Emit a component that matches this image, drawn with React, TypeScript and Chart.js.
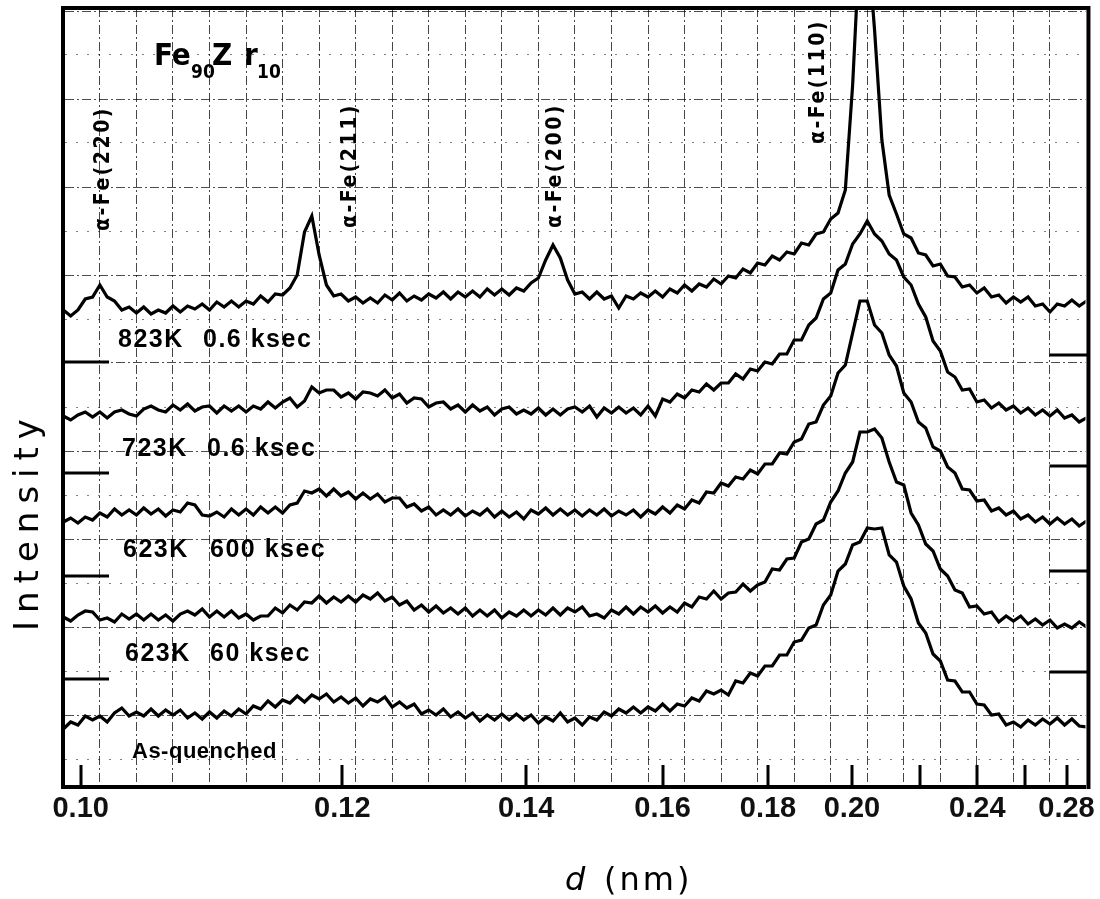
import { useEffect, useRef } from 'react';
import { Chart, LinearScale, registerables } from 'chart.js';

Chart.register(...registerables);

// Mo Kα radiation: the diffractometer scans in 2θ, the axis is labelled in d = λ / (2 sin θ)
const WAVELENGTH_NM = 0.0709;
const D_RANGE = [0.0989, 0.2903];
const SCAN_START_2THETA = 42.0;
const SCAN_STEP_2THETA = 0.2;

const D_TICKS = [0.1, 0.12, 0.14, 0.16, 0.18, 0.2, 0.22, 0.24, 0.26, 0.28];
const D_TICK_LABELS = ['0.10', '0.12', '0.14', '0.16', '0.18', '0.20', '', '0.24', '', '0.28'];

// Intensity (arb. units, traces offset vertically), one value per 2θ step
const I_823K_06KS = [
  477, 471, 477, 488, 490, 502, 490, 486, 477, 480,
  474, 480, 473, 477, 474, 481, 475, 481, 478, 483,
  477, 485, 480, 486, 480, 486, 483, 491, 485, 493,
  492, 499, 512, 555, 571, 532, 502, 491, 493, 486,
  490, 484, 489, 484, 492, 487, 494, 486, 491, 487,
  493, 489, 495, 488, 495, 490, 496, 490, 498, 492,
  498, 492, 499, 496, 504, 509, 527, 542, 529, 507,
  493, 495, 488, 495, 488, 491, 479, 491, 488, 494,
  490, 496, 490, 498, 494, 502, 496, 503, 500, 508,
  503, 511, 509, 518, 514, 524, 522, 531, 527, 535,
  533, 544, 542, 553, 555, 568, 574, 597, 702, 850,
  850, 757, 647, 592, 573, 553, 549, 534, 532, 521,
  523, 511, 510, 500, 502, 494, 499, 490, 492, 484,
  490, 485, 490, 481, 483, 475, 483, 481, 487, 481, 486,
];

const I_723K_06KS = [
  371, 367, 372, 375, 370, 375, 369, 375, 377, 373,
  371, 378, 381, 377, 375, 382, 377, 383, 376, 380,
  381, 374, 381, 376, 381, 375, 381, 378, 385, 379,
  385, 389, 380, 386, 400, 394, 397, 397, 390, 394,
  388, 395, 394, 391, 397, 389, 393, 384, 389, 388,
  380, 384, 385, 378, 382, 375, 382, 376, 380, 372,
  378, 380, 373, 377, 373, 379, 372, 378, 372, 378,
  380, 375, 381, 370, 379, 374, 380, 374, 379, 372,
  381, 371, 388, 385, 393, 389, 397, 395, 403, 397,
  404, 404, 413, 408, 418, 416, 425, 423, 433, 433,
  447, 447, 462, 469, 488, 494, 517, 523, 543, 553,
  566, 553, 546, 533, 527, 510, 502, 483, 470, 446,
  436, 415, 410, 397, 398, 385, 387, 379, 384, 377,
  381, 374, 379, 372, 377, 371, 377, 369, 372, 365, 369,
];

const I_623K_600KS = [
  265, 269, 264, 270, 267, 274, 270, 278, 272, 277,
  272, 279, 273, 278, 271, 277, 275, 284, 282, 272,
  271, 275, 270, 278, 272, 278, 272, 280, 274, 280,
  274, 282, 284, 296, 294, 298, 291, 298, 291, 295,
  288, 294, 288, 293, 285, 289, 289, 280, 283, 276,
  280, 272, 277, 272, 278, 271, 276, 272, 278, 270,
  276, 270, 275, 268, 277, 273, 279, 272, 278, 272,
  277, 271, 277, 272, 278, 271, 276, 272, 277, 270,
  277, 273, 280, 274, 282, 278, 287, 284, 295, 294,
  304, 301, 310, 308, 317, 313, 323, 323, 334, 333,
  345, 348, 363, 365, 382, 391, 414, 422, 454, 486,
  486, 462, 454, 432, 421, 394, 385, 365, 359, 340,
  336, 320, 314, 298, 297, 286, 287, 276, 279, 272,
  276, 268, 272, 265, 270, 263, 269, 263, 268, 261, 266,
];

const I_623K_60KS = [
  170, 166, 172, 176, 175, 167, 169, 165, 173, 168,
  173, 167, 173, 167, 172, 166, 173, 176, 172, 178,
  170, 176, 170, 176, 169, 173, 167, 171, 171, 179,
  174, 182, 177, 185, 184, 191, 184, 190, 185, 191,
  185, 192, 188, 194, 186, 190, 182, 186, 177, 182,
  175, 181, 174, 179, 173, 179, 171, 177, 171, 177,
  169, 175, 171, 177, 171, 177, 172, 179, 172, 179,
  175, 180, 171, 173, 169, 177, 173, 180, 173, 180,
  175, 181, 174, 180, 175, 184, 180, 190, 188, 196,
  188, 194, 195, 203, 196, 202, 205, 218, 217, 228,
  229, 245, 248, 263, 267, 285, 296, 314, 325, 355,
  355, 358, 349, 325, 305, 302, 274, 262, 243, 236,
  218, 211, 197, 194, 180, 181, 173, 175, 165, 171,
  166, 171, 163, 168, 162, 167, 159, 163, 159, 165, 160,
];

const I_AS_QUENCHED = [
  58, 65, 62, 71, 67, 71, 65, 74, 79, 71,
  75, 71, 78, 71, 77, 72, 77, 69, 74, 68,
  75, 69, 76, 71, 78, 73, 81, 78, 86, 80,
  87, 84, 91, 85, 92, 88, 93, 85, 90, 84,
  89, 81, 88, 85, 90, 80, 85, 79, 83, 73,
  77, 72, 78, 70, 75, 69, 74, 66, 72, 67,
  73, 67, 73, 67, 72, 64, 70, 66, 74, 65,
  69, 62, 70, 67, 75, 71, 78, 74, 80, 74,
  80, 76, 83, 76, 83, 81, 89, 86, 96, 93,
  97, 92, 106, 104, 114, 111, 121, 121, 132, 132,
  145, 147, 159, 162, 182, 192, 216, 223, 242, 245,
  259, 258, 259, 232, 225, 201, 188, 164, 154, 133,
  126, 107, 106, 95, 95, 83, 82, 72, 73, 62,
  65, 60, 67, 62, 68, 63, 69, 62, 68, 61, 60,
];

const SERIES = [I_823K_06KS, I_723K_06KS, I_623K_600KS, I_623K_60KS, I_AS_QUENCHED];
const SERIES_NAMES = ['823K 0.6ksec', '723K 0.6ksec', '623K 600ksec', '623K 60ksec', 'As-quenched'];
const TRACE_TEMPS = ['823K', '723K', '623K', '623K'];
const TRACE_TIMES = ['0.6 ksec', '0.6 ksec', '600 ksec', '60 ksec'];

// α-Fe reflections (a = 0.2866 nm)
const PEAK_NAMES = ['α-Fe(220)', 'α-Fe(211)', 'α-Fe(200)', 'α-Fe(110)'];
const PEAK_D = [0.1013, 0.117, 0.1433, 0.2027];

// zero-level marks of the stacked traces, left and right edge
const BASELINE_LEFT = [425, 314, 211, 108];
const BASELINE_RIGHT = [432, 321, 216, 115];

const LIB = '"Liberation Sans", Arial, sans-serif';
const COND = '"DejaVu Sans Condensed", "DejaVu Sans", sans-serif';
const SANS = '"DejaVu Sans", sans-serif';

const toTwoTheta = (d: number) => (360 / Math.PI) * Math.asin(WAVELENGTH_NM / (2 * d));
const toD = (tt: number) => WAVELENGTH_NM / (2 * Math.sin((tt * Math.PI) / 360));

// d axis that is linear in the diffraction angle 2θ
class BraggScale extends LinearScale {
  static id = 'bragg';
  static defaults = LinearScale.defaults;
  buildTicks() {
    return D_TICKS.map((value) => ({ value }));
  }
  getPixelForValue(value: number) {
    const a = toTwoTheta(this.min);
    const b = toTwoTheta(this.max);
    return this.getPixelForDecimal((a - toTwoTheta(value)) / (a - b));
  }
  getValueForPixel(pixel: number) {
    const a = toTwoTheta(this.min);
    const b = toTwoTheta(this.max);
    return toD(a - this.getDecimalForPixel(pixel) * (a - b));
  }
}
Chart.register(BraggScale as any);

const SCAN_D = SERIES[0].map((_, i) => toD(SCAN_START_2THETA - i * SCAN_STEP_2THETA));
const PAPER_COLUMNS = Array.from({ length: 28 }, (_, i) => 15 + i);
const PAPER_ROWS = Array.from({ length: 18 }, (_, i) => 28 + 44 * i);

const decorations = {
  id: 'decorations',
  afterDatasetsDraw(chart: any) {
    const { ctx, chartArea: a, scales } = chart;
    const x = scales.x;
    const y = scales.y;
    ctx.save();
    ctx.strokeStyle = '#000';
    ctx.fillStyle = '#000';

    // top and right frame
    ctx.lineWidth = 4;
    ctx.beginPath();
    ctx.moveTo(a.left - 2, a.top);
    ctx.lineTo(a.right + 3, a.top);
    ctx.lineTo(a.right + 3, a.bottom + 2);
    ctx.stroke();

    // inward tick marks on the d axis
    ctx.lineWidth = 3;
    ctx.beginPath();
    D_TICKS.forEach((v) => {
      const px = Math.round(x.getPixelForValue(v));
      ctx.moveTo(px, a.bottom);
      ctx.lineTo(px, a.bottom - 22);
    });
    ctx.stroke();

    // zero-level marks
    ctx.beginPath();
    BASELINE_LEFT.forEach((v) => {
      const py = Math.round(y.getPixelForValue(v));
      ctx.moveTo(a.left, py);
      ctx.lineTo(a.left + 46, py);
    });
    BASELINE_RIGHT.forEach((v) => {
      const py = Math.round(y.getPixelForValue(v));
      ctx.moveTo(a.right - 36, py);
      ctx.lineTo(a.right + 3, py);
    });
    ctx.stroke();

    // sample name
    ctx.textBaseline = 'alphabetic';
    ctx.textAlign = 'left';
    ctx.font = `bold 31px ${COND}`;
    ctx.fillText('Fe', 154, 65);
    ctx.font = `bold 19px ${COND}`;
    ctx.fillText('90', 191, 78);
    ctx.font = `bold 31px ${COND}`;
    ctx.fillText('Z', 212, 65);
    ctx.fillText('r', 244, 65);
    ctx.font = `bold 19px ${COND}`;
    ctx.fillText('10', 257, 78);

    // reflection labels, written upward
    const peakOffsets = [3, 41, 4, -43];
    const peakStarts = [231, 228, 228, 144];
    ctx.font = `bold 21px ${COND}`;
    (ctx as any).letterSpacing = '2.5px';
    PEAK_NAMES.forEach((name, i) => {
      const px = x.getPixelForValue(PEAK_D[i]) + peakOffsets[i];
      ctx.save();
      ctx.translate(px, peakStarts[i]);
      ctx.rotate(-Math.PI / 2);
      ctx.textAlign = 'left';
      ctx.textBaseline = 'middle';
      ctx.fillText(name, 0, 0);
      ctx.restore();
    });

    // annealing conditions under each trace
    const labelBase = [347, 456, 557, 661];
    const tempX = [118, 122, 123, 125];
    const timeX = [203, 207, 210, 210];
    ctx.font = `bold 25px ${LIB}`;
    (ctx as any).letterSpacing = '1.5px';
    ctx.textAlign = 'left';
    ctx.textBaseline = 'alphabetic';
    TRACE_TEMPS.forEach((t, i) => {
      ctx.fillText(t, tempX[i], labelBase[i]);
      ctx.fillText(TRACE_TIMES[i], timeX[i], labelBase[i]);
    });
    ctx.font = `bold 22px ${LIB}`;
    (ctx as any).letterSpacing = '0.5px';
    ctx.fillText(SERIES_NAMES[4], 132, 758);

    // axis titles
    ctx.font = `34px ${SANS}`;
    (ctx as any).letterSpacing = '8px';
    ctx.save();
    ctx.translate(38, 521);
    ctx.rotate(-Math.PI / 2);
    ctx.textAlign = 'center';
    ctx.fillText('Intensity', 0, 0);
    ctx.restore();
    (ctx as any).letterSpacing = '3px';
    ctx.textAlign = 'left';
    ctx.font = `italic 32px ${SANS}`;
    ctx.fillText('d', 565, 890);
    ctx.font = `32px ${SANS}`;
    ctx.fillText('(nm)', 604, 890);
    (ctx as any).letterSpacing = '0px';

    ctx.restore();
  },
};

export default function App() {
  const canvasRef = useRef<HTMLCanvasElement | null>(null);

  useEffect(() => {
    const canvas = canvasRef.current;
    if (!canvas) return;
    const chart = new Chart(canvas, {
      type: 'line',
      data: {
        datasets: SERIES.map((values, k) => ({
          label: SERIES_NAMES[k],
          data: values.map((v, i) => ({ x: SCAN_D[i], y: v })),
          borderColor: '#000',
          borderWidth: 3.2,
          pointRadius: 0,
          tension: 0,
          xAxisID: 'x',
          yAxisID: 'y',
        })),
      },
      options: {
        animation: false,
        responsive: false,
        devicePixelRatio: 1,
        events: [],
        layout: { padding: { top: 8, right: 11, bottom: 0, left: 0 } },
        plugins: { legend: { display: false }, tooltip: { enabled: false } },
        scales: {
          x2: {
            type: 'linear',
            position: 'bottom',
            reverse: true,
            min: toTwoTheta(D_RANGE[1]),
            max: toTwoTheta(D_RANGE[0]),
            afterBuildTicks: (s: any) => {
              s.ticks = PAPER_COLUMNS.map((value) => ({ value }));
            },
            afterFit: (s: any) => {
              s.height = 0;
            },
            ticks: { display: false },
            grid: { color: 'rgba(0,0,0,0.72)', lineWidth: 1, drawTicks: false },
            border: { display: false, dash: [9, 3, 2, 3] },
          },
          x: {
            type: 'bragg' as any,
            position: 'bottom',
            min: D_RANGE[0],
            max: D_RANGE[1],
            afterFit: (s: any) => {
              s.height = 112;
            },
            grid: { display: false, drawTicks: false },
            border: { display: true, width: 4, color: '#000' },
            ticks: {
              autoSkip: false,
              maxRotation: 0,
              padding: 5,
              color: '#111',
              font: { family: LIB, size: 29, weight: 'bold' },
              callback: (_v: any, i: number) => D_TICK_LABELS[i],
            },
          },
          y: {
            type: 'linear',
            min: 0,
            max: 779,
            afterBuildTicks: (s: any) => {
              s.ticks = PAPER_ROWS.map((value) => ({ value }));
            },
            afterFit: (s: any) => {
              s.width = 63;
            },
            ticks: { display: false },
            grid: {
              drawTicks: false,
              lineWidth: 1,
              color: (c: any) => (c.index % 2 ? 'rgba(0,0,0,0.7)' : 'rgba(0,0,0,0.5)'),
            },
            border: {
              display: true,
              width: 4,
              color: '#000',
              dash: (c: any) => (c.index === undefined ? [] : c.index % 2 ? [9, 3, 2, 3] : [2, 9]),
            },
          },
        },
      },
      plugins: [decorations],
    } as any);
    return () => chart.destroy();
  }, []);

  return (
    <div style={{ position: 'fixed', left: 0, top: 0, width: 1100, height: 899, background: '#fff' }}>
      <canvas ref={canvasRef} width={1100} height={899} style={{ display: 'block' }} />
    </div>
  );
}
